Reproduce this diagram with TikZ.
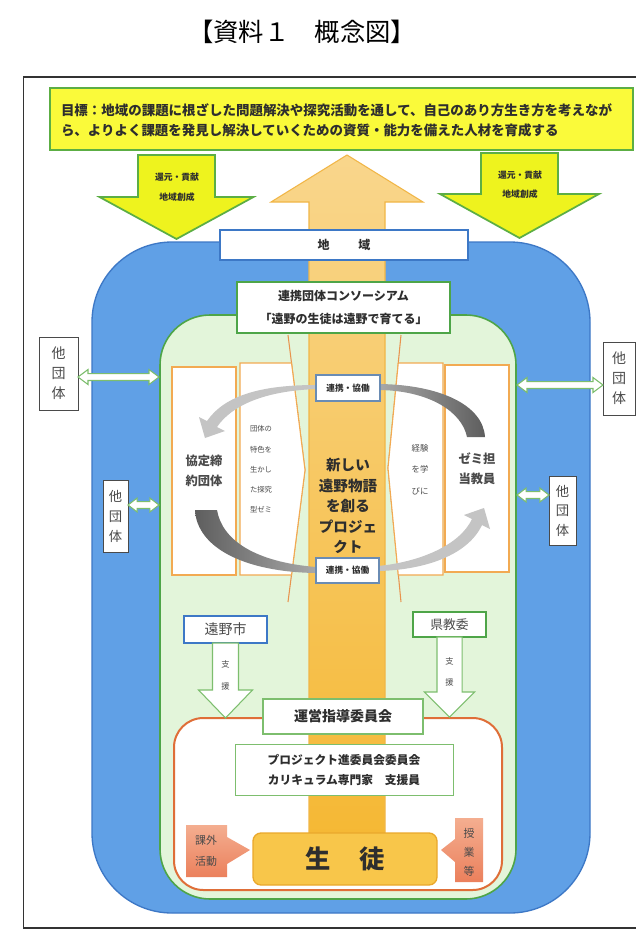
\documentclass[tikz,border=0pt]{standalone}
\usepackage{fontspec}
\newfontfamily\jp{Noto Sans CJK JP}
\usetikzlibrary{calc}
\definecolor{frameC}{HTML}{333333}
\definecolor{goalY}{HTML}{FAFA3A}
\definecolor{arrY}{HTML}{EEF31E}
\definecolor{yGreen}{HTML}{5CAE44}
\definecolor{blueF}{HTML}{60A0E6}
\definecolor{blueD}{HTML}{3D78C6}
\definecolor{greenF}{HTML}{E3F5DA}
\definecolor{greenD}{HTML}{4EA548}
\definecolor{orT}{HTML}{F9D68C}
\definecolor{orB}{HTML}{F5B834}
\definecolor{orD}{HTML}{F1B647}
\definecolor{chev}{HTML}{E8944E}
\definecolor{boxO}{HTML}{F2AA52}
\definecolor{redO}{HTML}{DF6E38}
\definecolor{seitoF}{HTML}{F8C64A}
\definecolor{seitoD}{HTML}{EAA82C}
\definecolor{salT}{HTML}{F4AE90}
\definecolor{salB}{HTML}{EB805C}
\definecolor{grayL}{HTML}{C4C4C4}
\definecolor{grayD}{HTML}{5E5E5E}
\definecolor{grayM}{HTML}{A8A8A8}
\definecolor{txt}{HTML}{2E2E2E}
\definecolor{txtg}{HTML}{4A4A4A}
\definecolor{rkB}{HTML}{6A8CB4}
\definecolor{lgreen}{HTML}{7DBE6E}
\newcommand\fz[2]{\fontsize{#1}{#2}\selectfont}
% double-headed outline arrow between two named points (horizontal)
\newcommand\dblarr[5]{%
\path[dblarrow] let \p1=(#1), \p2=(#2) in
 (\x1,\y1) -- (\x1+#5,\y1+#3) -- (\x1+#5,\y1+#4) -- (\x2-#5,\y1+#4) -- (\x2-#5,\y1+#3)
 -- (\x2,\y1) -- (\x2-#5,\y1-#3) -- (\x2-#5,\y1-#4) -- (\x1+#5,\y1-#4) -- (\x1+#5,\y1-#3) -- cycle;}
% block arrow pointing down: style, from, tip, shaft half width, head half width, head length
\newcommand\downarr[6]{%
\path[#1] let \p1=(#2), \p2=(#3) in
 (\x1-#4,\y1) -- (\x1+#4,\y1) -- (\x1+#4,\y2+#6) -- (\x1+#5,\y2+#6) -- (\x1,\y2)
 -- (\x1-#5,\y2+#6) -- (\x1-#4,\y2+#6) -- cycle;}
% block arrow pointing up
\newcommand\uparr[6]{%
\path[#1] let \p1=(#2), \p2=(#3) in
 (\x1-#4,\y1) -- (\x1+#4,\y1) -- (\x1+#4,\y2-#6) -- (\x1+#5,\y2-#6) -- (\x1,\y2)
 -- (\x1-#5,\y2-#6) -- (\x1-#4,\y2-#6) -- cycle;}
\begin{document}
\begin{tikzpicture}[x=0.75pt,y=-0.75pt,
 every node/.style={inner sep=0pt, outer sep=0pt, font=\jp, text=txt},
 wbox/.style={draw=#1, fill=white, line width=0.9pt, align=center},
 othbox/.style={draw=txtg, fill=white, line width=0.7pt, align=center, text=txtg},
 dblarrow/.style={draw=lgreen, fill=white, line width=0.8pt},
 yarr/.style={draw=yGreen, fill=arrY, line width=1.3pt},
 shien/.style={draw=lgreen, fill=white, line width=0.8pt},
 orarr/.style={draw=orD, line width=0.8pt, top color=orT, bottom color=orB},
 small/.style={font=\jp\bfseries\fz{6.6}{8}}]
\useasboundingbox (0,0) rectangle (636,933);
\fill[white] (0,0) rectangle (636,933);
% title
\node[font=\jp\fz{19}{21}, text=black] (title) at (302,32) {【資料１　概念図】};
% frame
\draw[frameC, line width=1.3pt] (23.5,77) rectangle (645,928);
% goal
\draw[yGreen, fill=goalY, line width=1.5pt] (50,88) rectangle (633,150);
\node[anchor=west, font=\jp\bfseries\fz{10.1}{12}] (g1) at (61,110) {目標：地域の課題に根ざした問題解決や探究活動を通して、自己のあり方生き方を考えなが};
\node[anchor=west, font=\jp\bfseries\fz{10.1}{12}] (g2) at (61,130) {ら、よりよく課題を発見し解決していくための資質・能力を備えた人材を育成する};
% yellow arrows
\coordinate (yL0) at (176.5,155); \coordinate (yL1) at (176.5,239);
\downarr{yarr}{yL0}{yL1}{28.9pt}{57.75pt}{31.5pt}
\coordinate (yR0) at (519.5,153); \coordinate (yR1) at (519.5,238);
\downarr{yarr}{yR0}{yR1}{28.9pt}{59.6pt}{33pt}
\node[small] (yl1t) at (177,177) {還元・貢献};
\node[small] (yl2t) at (177,197) {地域創成};
\node[small] (yr1t) at (520,175) {還元・貢献};
\node[small] (yr2t) at (520,194) {地域創成};
% regions
\draw[blueD, fill=blueF, line width=1pt, rounded corners=60pt] (92,242) rectangle (590,913);
\draw[greenD, fill=greenF, line width=1.2pt, rounded corners=37.5pt] (160,315) rectangle (516,899);
\draw[redO, fill=white, line width=1.5pt, rounded corners=22pt] (174,718) rectangle (502,890);
% chevrons
\draw[chev, line width=0.8pt] (288,335) -- (305,470) -- (288,602);
\draw[chev, line width=0.8pt] (401,335) -- (388,468) -- (401,602);
\draw[boxO, fill=white, line width=0.8pt] (240,363) -- (291.5,363) -- (305,470) -- (291.5,575) -- (240,575) -- cycle;
\draw[boxO, fill=white, line width=0.8pt] (443,363) -- (398.3,363) -- (388,468) -- (398.3,575) -- (443,575) -- cycle;
\node[font=\jp\fz{5.5}{15.2}, align=center, text=txtg] (tokushoku) at (261,469.5) {団体の\\特色を\\生かし\\た探究\\型ゼミ};
\node[font=\jp\fz{6.3}{16.1}, align=center, text=txtg] (keiken) at (420,469.5) {経験\\を学\\びに};
\node[wbox=boxO, minimum width=48pt, minimum height=156pt, font=\jp\bfseries\fz{9.2}{15}, text=txtg] (kyotei) at (204,471) {協定締\\約団体};
\node[wbox=boxO, minimum width=48pt, minimum height=155.25pt, font=\jp\bfseries\fz{9.2}{15}, text=txtg] (zemi) at (477,468.5) {ゼミ担\\当教員};
% big orange arrow
\coordinate (oB) at (347,840); \coordinate (oT) at (347,155);
\uparr{orarr}{oB}{oT}{28.5pt}{57pt}{35.25pt}
% chiiki & consortium
\node[wbox=blueD, line width=1.2pt, minimum width=186pt, minimum height=22.5pt, font=\jp\bfseries\fz{9}{10}] (chiiki) at (344,245) {地\hspace{21.75pt}域};
\node[wbox=greenD, line width=2pt, minimum width=159.75pt, minimum height=38.25pt, font=\jp\bfseries\fz{9}{17.25}] (consort) at (343.5,307.5) {連携団体コンソーシアム\\「遠野の生徒は遠野で育てる」};
% gray cycle arrows
\fill[grayL] (316,385) .. controls (262,385) and (225,395) .. (207,421) -- (199,417) -- (205,438) -- (225,431) -- (217,427) .. controls (232,405) and (265,391) .. (316,389) -- cycle;
\shade[left color=grayD, right color=grayM] (195,510) -- (217,510) .. controls (222,540) and (255,562) .. (316,567) -- (316,573) .. controls (245,572) and (197,548) .. (195,510) -- cycle;
\shade[left color=grayM, right color=grayD] (380,384) .. controls (440,385) and (483,405) .. (485,437) -- (467,437) .. controls (462,412) and (430,391) .. (380,390) -- cycle;
\fill[grayL] (378,566) .. controls (420,562) and (460,545) .. (472,519) -- (464,515) -- (484,508) -- (490,529) -- (482,525) .. controls (468,555) and (425,570) .. (378,571) -- cycle;
\node[wbox=rkB, line width=1pt, minimum width=48pt, minimum height=19.5pt, font=\jp\bfseries\fz{6.5}{8}] (rk1) at (348,388) {連携・協働};
\node[wbox=rkB, line width=1pt, minimum width=47.25pt, minimum height=18.75pt, font=\jp\bfseries\fz{6.5}{8}] (rk2) at (347.5,570.5) {連携・協働};
\node[font=\jp\bfseries\fz{10.9}{15.4}, align=center] (projtxt) at (348,506) {新しい\\遠野物語\\を創る\\プロジェ\\クト};
% other organisations
\node[othbox, minimum width=29.25pt, minimum height=54.75pt, font=\jp\fz{10.5}{15}] (o1) at (58.5,373.5) {他\\団\\体};
\node[othbox, minimum width=18.75pt, minimum height=54pt, font=\jp\fz{10}{15}] (o2) at (115.5,516) {他\\団\\体};
\node[othbox, minimum width=24pt, minimum height=54.75pt, font=\jp\fz{10.5}{15}] (o3) at (619,378.5) {他\\団\\体};
\node[othbox, minimum width=20.25pt, minimum height=51.75pt, font=\jp\fz{10}{14.6}] (o4) at (562.5,510.5) {他\\団\\体};
\coordinate (gl1) at (159,377); \coordinate (gl2) at (159,505);
\coordinate (gr1) at (517,385); \coordinate (gr2) at (517,495);
\dblarr{o1.east |- gl1}{gl1}{5.6pt}{2.6pt}{7.5pt}
\dblarr{o2.east |- gl2}{gl2}{5.2pt}{2.6pt}{6.8pt}
\dblarr{gr1}{o3.west |- gr1}{5.6pt}{2.6pt}{7.5pt}
\dblarr{gr2}{o4.west |- gr2}{5.2pt}{2.6pt}{6.8pt}
% support
\node[wbox=blueD, line width=1pt, minimum width=62.25pt, minimum height=20.25pt, font=\jp\fz{10.5}{12}, text=txtg] (tono) at (225.5,629.5) {遠野市};
\node[wbox=greenD, line width=1pt, minimum width=54.75pt, minimum height=18.75pt, font=\jp\fz{9.6}{11}, text=txtg] (ken) at (449.5,624.5) {県教委};
\coordinate (tip1) at (225.5,718); \coordinate (tip2) at (449.5,717);
\downarr{shien}{tono.south}{tip1}{9.75pt}{20.25pt}{21pt}
\downarr{shien}{ken.south}{tip2}{9.4pt}{18.75pt}{18.75pt}
\node[font=\jp\fz{6.2}{16.5}, align=center, text=txtg] (s1) at (225.5,675) {支\\援};
\node[font=\jp\fz{6.2}{15.75}, align=center, text=txtg] (s2) at (449.5,671.5) {支\\援};
% committees
\node[wbox=lgreen, line width=0.9pt, minimum width=120pt, minimum height=26.25pt, font=\jp\bfseries\fz{10.5}{12}] (unei) at (343,716.5) {運営指導委員会};
\node[wbox=lgreen, line width=0.7pt, minimum width=163.5pt, minimum height=38.25pt, font=\jp\bfseries\fz{8.8}{15}] (pc) at (344,769.5) {プロジェクト進委員会委員会\\カリキュラム専門家　支援員};
% students
\node[draw=seitoD, fill=seitoF, line width=1pt, rounded corners=6pt, minimum width=138pt, minimum height=39pt, font=\jp\bfseries\fz{19}{20}] (seito) at (345,859) {生\hspace{22pt}徒};
\shade[top color=salT, bottom color=salB] (186,825) -- (227,825) -- (227,837) -- (250,850) -- (227,864) -- (227,877) -- (186,877) -- cycle;
\node[font=\jp\fz{8.2}{15.75}, align=center, text=txtg] (kagai) at (206,851) {課外\\活動};
\shade[top color=salT, bottom color=salB] (483,818) -- (455,818) -- (455,839) -- (441,850) -- (455,862) -- (455,882) -- (483,882) -- cycle;
\node[font=\jp\fz{8.2}{14.25}, align=center, text=txtg] (jugyo) at (469,852) {授\\業\\等};
\end{tikzpicture}
\end{document}
